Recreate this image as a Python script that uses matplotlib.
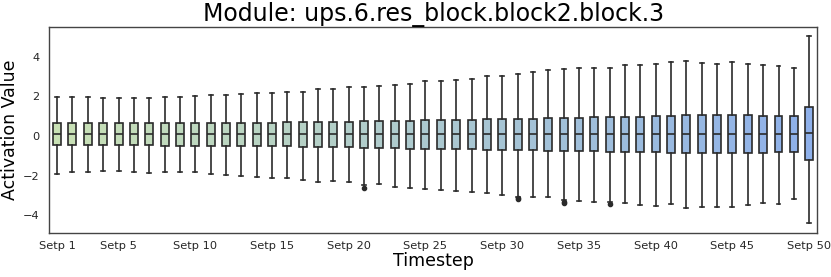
import numpy as np
import matplotlib
matplotlib.use("Agg")
import matplotlib.pyplot as plt
from matplotlib.colors import to_rgb

# Activation statistics per timestep
steps = ["Setp %d" % i for i in range(1, 51)]

whis_hi = [1.95, 1.95, 1.97, 1.94, 1.92, 1.94, 1.94, 1.95, 1.97, 2.02,
           2.05, 2.09, 2.10, 2.19, 2.19, 2.22, 2.24, 2.35, 2.40, 2.50,
           2.49, 2.54, 2.60, 2.62, 2.77, 2.77, 2.84, 2.87, 3.01, 3.02,
           3.11, 3.21, 3.32, 3.39, 3.41, 3.42, 3.44, 3.61, 3.61, 3.64,
           3.74, 3.79, 3.71, 3.66, 3.72, 3.66, 3.61, 3.52, 3.42, 5.03]
q3 = [0.68, 0.68, 0.68, 0.68, 0.68, 0.68, 0.68, 0.68, 0.68, 0.68,
      0.68, 0.68, 0.68, 0.68, 0.68, 0.70, 0.70, 0.72, 0.72, 0.73,
      0.75, 0.75, 0.77, 0.78, 0.80, 0.82, 0.82, 0.83, 0.85, 0.85,
      0.87, 0.88, 0.90, 0.92, 0.93, 0.95, 0.95, 0.97, 0.98, 1.00,
      1.02, 1.05, 1.05, 1.05, 1.05, 1.05, 1.03, 1.03, 1.00, 1.47]
med = [0.12] * 14 + [0.10] * 35 + [0.17]
q1 = [-0.47, -0.47, -0.47, -0.47, -0.47, -0.47, -0.47, -0.49, -0.49, -0.49,
      -0.49, -0.50, -0.50, -0.52, -0.52, -0.52, -0.54, -0.55, -0.55, -0.57,
      -0.59, -0.59, -0.62, -0.64, -0.64, -0.65, -0.65, -0.67, -0.69, -0.70,
      -0.70, -0.72, -0.74, -0.75, -0.77, -0.77, -0.79, -0.80, -0.82, -0.82,
      -0.84, -0.85, -0.85, -0.87, -0.87, -0.85, -0.84, -0.82, -0.79, -1.20]
whis_lo = [-1.89, -1.82, -1.81, -1.77, -1.76, -1.82, -1.86, -1.82, -1.82, -1.82,
           -1.92, -1.96, -1.99, -2.06, -2.12, -2.12, -2.19, -2.32, -2.27, -2.32,
           -2.45, -2.44, -2.56, -2.64, -2.69, -2.73, -2.76, -2.81, -2.86, -2.98,
           -3.06, -3.08, -3.06, -3.20, -3.28, -3.33, -3.30, -3.36, -3.46, -3.53,
           -3.44, -3.61, -3.56, -3.59, -3.59, -3.48, -3.39, -3.41, -3.16, -4.40]
outliers = {20: [-2.60], 30: [-3.13, -3.17], 33: [-3.30, -3.38], 36: [-3.42]}

tick_idx = [0, 4, 9, 14, 19, 24, 29, 34, 39, 44, 49]

stats = []
for i in range(len(steps)):
    stats.append({"whislo": whis_lo[i], "q1": q1[i], "med": med[i], "q3": q3[i],
                  "whishi": whis_hi[i], "fliers": outliers.get(i, [])})

# green -> blue gradient
c0 = np.array(to_rgb("#c9e1b5"))
c1 = np.array(to_rgb("#8eb0ea"))
colors = [c0 + (c1 - c0) * t for t in np.linspace(0, 1, len(steps))]

fig = plt.figure(figsize=(8.31, 2.77), dpi=100)
ax = fig.add_axes([0.0595, 0.16, 0.9235, 0.7425])

edge = "#2b2b2b"
bp = ax.bxp(stats, positions=np.arange(len(steps)), widths=0.52, patch_artist=True,
            boxprops=dict(edgecolor=edge, linewidth=1.2),
            medianprops=dict(color=edge, linewidth=1.2),
            whiskerprops=dict(color=edge, linewidth=1.2),
            capprops=dict(color=edge, linewidth=1.2),
            flierprops=dict(marker="o", markersize=3, markerfacecolor=edge,
                            markeredgecolor=edge))
for patch, c in zip(bp["boxes"], colors):
    patch.set_facecolor(c)

ax.set_xlim(-0.5, len(steps) - 0.5)
ax.margins(y=0.05)
ax.set_xticks(tick_idx)
ax.set_xticklabels([steps[i] for i in tick_idx])
ax.set_yticks([-4, -2, 0, 2, 4])
ax.tick_params(length=0, labelsize=8.2, colors="#262626")
ax.tick_params(axis="x", pad=6)
ax.tick_params(axis="y", pad=7)
for s in ax.spines.values():
    s.set_color("#444444")
    s.set_linewidth(1.0)

ax.set_title("Module: ups.6.res_block.block2.block.3", fontsize=17, pad=4)
ax.set_xlabel("Timestep", fontsize=12.5, labelpad=1)
ax.set_ylabel("Activation Value", fontsize=12.5, labelpad=3)

fig.savefig("out.png", dpi=100)
